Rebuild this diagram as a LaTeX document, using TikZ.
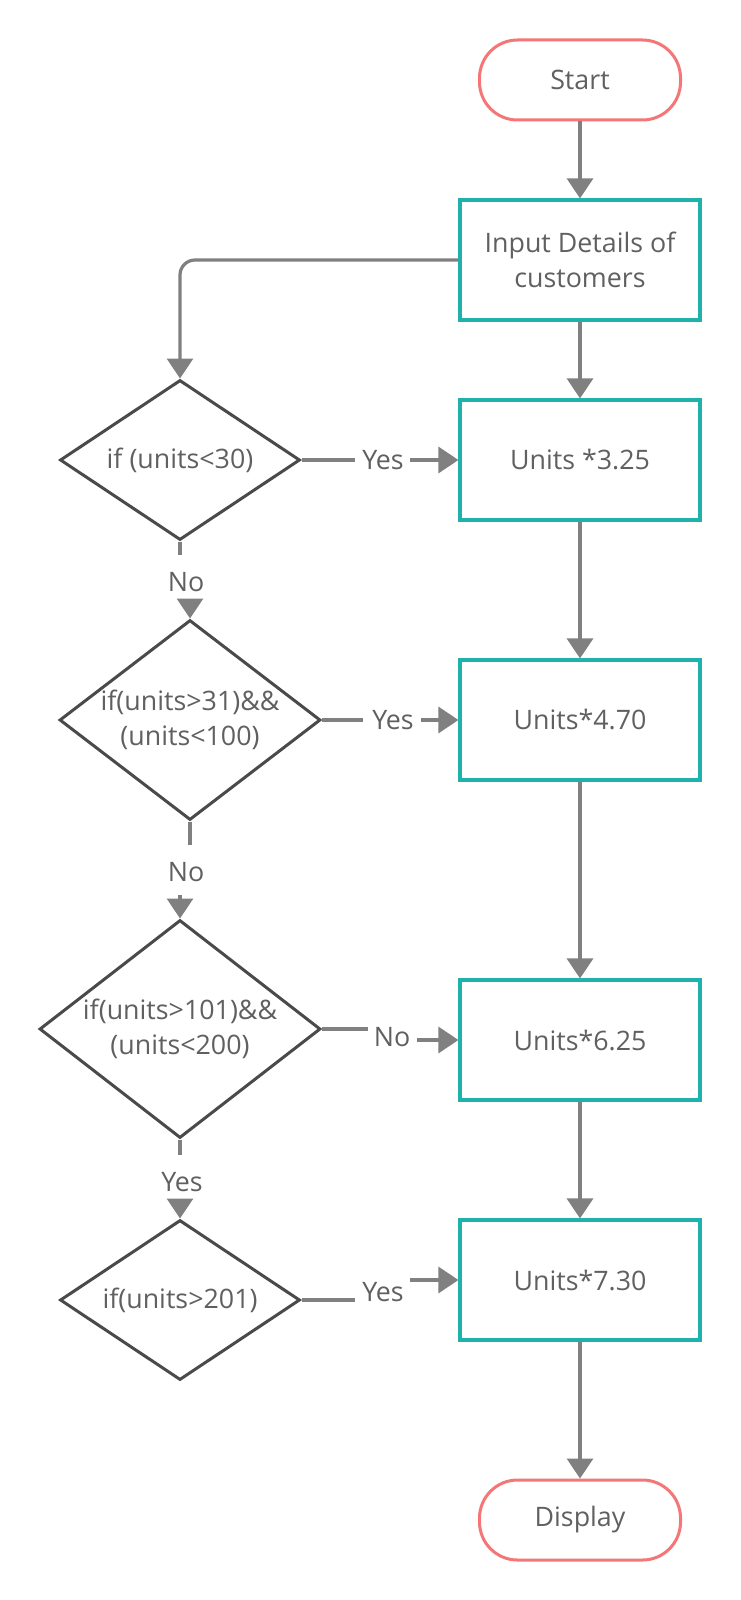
\documentclass[tikz,border=0pt]{standalone}
\usepackage{fontspec}
\setmainfont{Open Sans}
\usetikzlibrary{arrows.meta,shapes.geometric}
\definecolor{tealc}{HTML}{20B2AA}
\definecolor{termc}{HTML}{F47676}
\definecolor{diac}{HTML}{4A4A4A}
\definecolor{arrc}{HTML}{808080}
\definecolor{txtc}{HTML}{606060}
\begin{document}
\begin{tikzpicture}[x=1pt,y=-1pt,
  every node/.style={font=\fontsize{26.8}{35}\selectfont, text=txtc},
  termbox/.style={draw=termc, line width=3pt, rounded corners=38pt, minimum width=201pt, minimum height=80pt},
  procbox/.style={draw=tealc, line width=3.2pt, minimum width=240pt, minimum height=120pt, align=center},
  decision/.style={diamond, draw=diac, line width=3pt, inner sep=0pt},
  conn/.style={draw=arrc, line width=3.2pt},
  arrow/.style={conn, -{Triangle[width=26pt,length=20pt]}},
  lbl/.style={inner sep=0pt}
]
\fill[white] (0,0) rectangle (740,1600);
\useasboundingbox (0,0) rectangle (740,1600);

% terminals
\node[termbox] (start) at (580,80) {Start};
\node[termbox] (display) at (580,1520) {Display};

% process boxes
\node[procbox] (in) at (580,260) {Input Details of\\customers};
\node[procbox] (b1) at (580,460) {Units *3.25};
\node[procbox] (b2) at (580,720) {Units*4.70};
\node[procbox] (b3) at (580,1040) {Units*6.25};
\node[procbox] (b4) at (580,1280) {Units*7.30};

% decisions
\node[decision, minimum width=240pt, minimum height=160pt,
  label={[align=center]center:{if (units<30)}}] (d1) at (180,460) {};
\node[decision, minimum width=261pt, minimum height=200pt,
  label={[align=center]center:{if(units>31)\&\&\\(units<100)}}] (d2) at (190,720) {};
\node[decision, minimum width=281pt, minimum height=218pt,
  label={[align=center]center:{if(units>101)\&\&\\(units<200)}}] (d3) at (180,1029) {};
\node[decision, minimum width=240pt, minimum height=160pt,
  label={[align=center]center:{if(units>201)}}] (d4) at (180,1300) {};

% main column
\draw[arrow] (start) -- (in);
\draw[arrow] (in) -- (b1);
\draw[arrow] (b1) -- (b2);
\draw[arrow] (b2) -- (b3);
\draw[arrow] (b3) -- (b4);
\draw[arrow] (b4) -- (display);

% input to first decision
\draw[arrow, rounded corners=15pt] (in.west) -| (d1.north);

% vertical decision chain
\node[lbl] (no1) at (186,582) {No};
\coordinate (no1a) at (180,555);
\coordinate (no1b) at (190,600);
\draw[conn] (d1.south) -- (no1a);
\draw[arrow] (no1b) -- (d2.north);

\node[lbl] (no2) at (186,872) {No};
\coordinate (no2a) at (190,845);
\coordinate (no2b) at (180,895);
\draw[conn] (d2.south) -- (no2a);
\draw[arrow] (no2b) -- (d3.north);

\node[lbl] (yes3) at (182,1182) {Yes};
\coordinate (yes3a) at (180,1155);
\coordinate (yes3b) at (180,1203);
\draw[conn] (d3.south) -- (yes3a);
\draw[arrow] (yes3b) -- (d4.north);

% horizontal branches
\node[lbl] (yes1) at (383,460) {Yes};
\coordinate (yes1a) at (355,460);
\coordinate (yes1b) at (410,460);
\draw[conn] (d1.east) -- (yes1a);
\draw[arrow] (yes1b) -- (b1.west);

\node[lbl] (yes2) at (393,720) {Yes};
\coordinate (yes2a) at (363,720);
\coordinate (yes2b) at (421,720);
\draw[conn] (d2.east) -- (yes2a);
\draw[arrow] (yes2b) -- (b2.west);

\node[lbl] (no3) at (392,1037) {No};
\coordinate (no3a) at (368,1029);
\coordinate (no3b) at (417,1040);
\draw[conn] (d3.east) -- (no3a);
\draw[arrow] (no3b) -- (b3.west);

\node[lbl] (yes4) at (383,1292) {Yes};
\coordinate (yes4a) at (355,1300);
\coordinate (yes4b) at (410,1280);
\draw[conn] (d4.east) -- (yes4a);
\draw[arrow] (yes4b) -- (b4.west);
\end{tikzpicture}
\end{document}
